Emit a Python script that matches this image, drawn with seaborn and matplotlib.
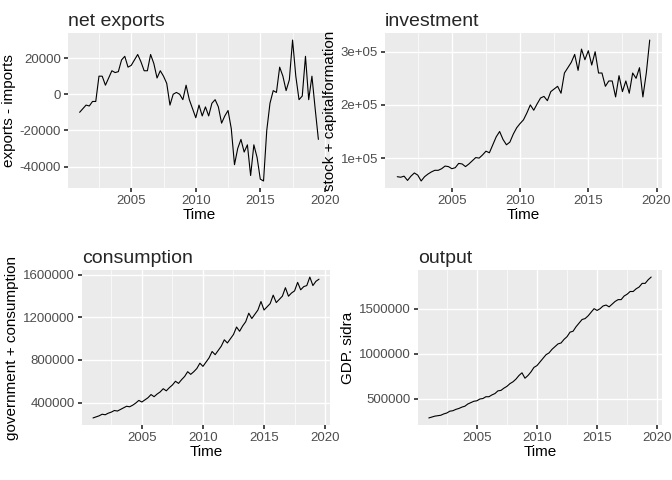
import numpy as np
import pandas as pd
import matplotlib
matplotlib.use("Agg")
import matplotlib.pyplot as plt
import seaborn as sns
from matplotlib.ticker import FuncFormatter

# quarterly series 2001Q1 .. 2019Q3
net_exports = [
    -10000, -8000, -6000, -6500, -4000, -4000, 10000, 10000,
    5000, 9000, 13000, 12000, 12500, 19000, 21000, 15000,
    16000, 19000, 22000, 18000, 13000, 13000, 22000, 17000,
    9000, 13000, 10000, 6000, -6000, 0, 1000, 0,
    -3000, 5000, -3000, -8000, -13000, -6000, -12000, -7000,
    -12000, -5000, -3000, -7000, -16000, -12000, -9000, -19000,
    -39000, -30000, -25000, -32000, -28000, -45000, -28000, -35000,
    -47000, -48000, -20000, -5000, 2000, 1000, 15000, 10000,
    2000, 8000, 30000, 10000, -3000, -1000, 21000, -3000,
    10000, -8000, -25000,
]
investment = [
    0.65, 0.64, 0.66, 0.58, 0.66, 0.72, 0.68, 0.57,
    0.65, 0.70, 0.74, 0.77, 0.77, 0.80, 0.85, 0.84,
    0.80, 0.82, 0.90, 0.89, 0.84, 0.89, 0.95, 1.01,
    1.00, 1.06, 1.13, 1.10, 1.25, 1.40, 1.50, 1.35,
    1.25, 1.30, 1.45, 1.57, 1.65, 1.72, 1.85, 2.00,
    1.90, 2.02, 2.13, 2.16, 2.08, 2.25, 2.30, 2.35,
    2.22, 2.60, 2.70, 2.80, 2.95, 2.65, 3.05, 2.85,
    3.02, 2.75, 3.00, 2.60, 2.60, 2.35, 2.45, 2.45,
    2.15, 2.55, 2.25, 2.45, 2.22, 2.60, 2.50, 2.70,
    2.15, 2.60, 3.22,
]
consumption = [
    255, 265, 275, 290, 285, 300, 310, 325, 320, 335, 350, 365,
    360, 375, 395, 420, 405, 425, 445, 475, 455, 480, 500, 530,
    510, 540, 565, 600, 580, 615, 645, 690, 665, 690, 720, 770,
    740, 780, 820, 880, 850, 890, 930, 990, 960, 1000, 1040, 1110,
    1070, 1120, 1160, 1240, 1190, 1230, 1270, 1350, 1270, 1300, 1330, 1410,
    1340, 1370, 1400, 1480, 1400, 1430, 1450, 1530, 1460, 1490, 1500, 1580,
    1500, 1540, 1560,
]
output = [
    290, 300, 310, 315, 320, 335, 345, 365, 370, 385, 395, 410,
    420, 445, 460, 475, 480, 500, 505, 525, 525, 545, 560, 590,
    595, 620, 640, 670, 690, 720, 760, 790, 730, 760, 800, 850,
    870, 910, 950, 990, 1010, 1050, 1080, 1110, 1120, 1160, 1190, 1240,
    1250, 1300, 1340, 1380, 1390, 1420, 1460, 1500, 1480, 1500, 1530, 1540,
    1520, 1550, 1580, 1600, 1600, 1640, 1660, 1690, 1690, 1720, 1740, 1780,
    1780, 1820, 1850,
]

time = 2001 + np.arange(len(net_exports)) / 4

panels = [
    ("net exports", "exports - imports", np.array(net_exports),
     [-40000, -20000, 0, 20000], lambda v, p: f"{v:.0f}"),
    ("investment", "stock + capitalformation", np.array(investment) * 1e5,
     [1e5, 2e5, 3e5], lambda v, p: f"{v/1e5:.0f}e+05"),
    ("consumption", "government + consumption", np.array(consumption) * 1000,
     [400000, 800000, 1200000, 1600000], lambda v, p: f"{v:.0f}"),
    ("output", "GDP. sidra", np.array(output) * 1000,
     [500000, 1000000, 1500000], lambda v, p: f"{v:.0f}"),
]

sns.set_theme(style="darkgrid", rc={
    "axes.facecolor": "#EBEBEB", "grid.color": "white",
    "axes.labelcolor": "black", "xtick.color": "#4D4D4D", "ytick.color": "#4D4D4D",
})
plt.rcParams["font.family"] = ["Liberation Sans", "DejaVu Sans"]

W, H = 672, 480
# axes boxes in pixels: left, top, right, bottom
boxes = [(68, 33, 330, 188), (385, 33, 662, 188), (82, 270, 330, 425), (418, 270, 662, 425)]

fig = plt.figure(figsize=(6.72, 4.8), dpi=100)
for (l, t, r, b), (title, ylab, vals, ticks, fmt) in zip(boxes, panels):
    ax = fig.add_axes([l / W, 1 - b / H, (r - l) / W, (b - t) / H])
    df = pd.DataFrame({"Time": time, "v": vals})
    sns.lineplot(data=df, x="Time", y="v", color="black", linewidth=0.8, ax=ax)
    ax.set_title(title, loc="left", fontsize=14, pad=5)
    ax.set_ylabel(ylab, fontsize=11, labelpad=3)
    ax.set_xlabel("Time", fontsize=11, labelpad=1)
    ax.set_xlim(2000.1, 2020.4)
    ax.set_xticks([2005, 2010, 2015, 2020])
    ax.set_xticks([2002.5, 2007.5, 2012.5, 2017.5], minor=True)
    ax.set_yticks(ticks)
    lo, hi = vals.min(), vals.max()
    pad = (hi - lo) * 0.05
    ax.set_ylim(lo - pad, hi + pad)
    ax.yaxis.set_major_formatter(FuncFormatter(fmt))
    ax.grid(which="major", color="white", linewidth=1.0)
    ax.grid(which="minor", color="white", linewidth=0.5)
    ax.tick_params(labelsize=9.5, length=3, color="#333333", which="major",
                   left=True, bottom=True, pad=2)
    ax.tick_params(which="minor", length=0)
    for s in ax.spines.values():
        s.set_visible(False)

fig.savefig("out.png", dpi=100)
